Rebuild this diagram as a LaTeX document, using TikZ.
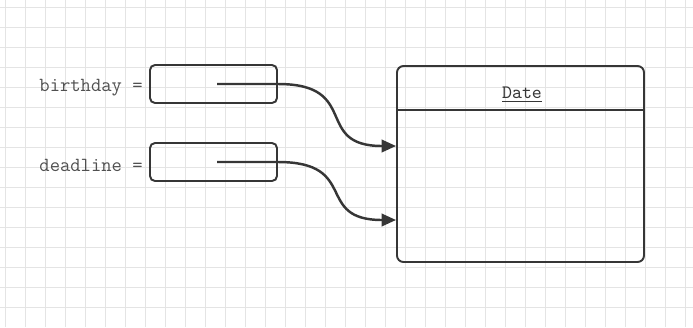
\documentclass[tikz,border=0pt]{standalone}
\usepackage{fontspec}
\usepackage{tikz}
\usetikzlibrary{positioning,arrows.meta,calc}
\definecolor{ink}{HTML}{363636}
\definecolor{txt}{HTML}{505050}
\definecolor{paper}{HTML}{E4E4E4}
\tikzset{
  varbox/.style={draw=ink, line width=1.1pt, rounded corners=0.1cm, minimum width=2.54cm, minimum height=0.76cm, inner sep=0pt},
  objbox/.style={draw=ink, line width=1.1pt, rounded corners=0.13cm, minimum width=4.94cm, minimum height=3.92cm, inner sep=0pt},
  vlabel/.style={text=txt, font=\ttfamily\fontsize{11.4}{13}\selectfont, inner sep=0pt, anchor=east},
  ptr/.style={draw=ink, line width=1.4pt, -{Triangle[length=2.9mm,width=2.5mm]}},
  gridln/.style={draw=paper, line width=0.3pt},
}
\begin{document}
\begin{tikzpicture}
\useasboundingbox (0,0) rectangle (13.86,-6.54);
% graph paper
\foreach \x in {0.1,0.5,...,13.8} \draw[gridln] (\x,0) -- (\x,-6.54);
\foreach \y in {-0.14,-0.54,...,-6.5} \draw[gridln] (0,\y) -- (13.86,\y);

% variables
\node[varbox] (bday) at (4.27,-1.68) {};
\node[varbox] (dline) at (4.27,-3.24) {};
\node[vlabel] (bdaylbl) at (2.86,-1.75) {birthday =};
\node[vlabel] (dlinelbl) at (2.86,-3.31) {deadline =};
\coordinate (bptr) at (4.34,-1.68);
\coordinate (dptr) at (4.34,-3.24);

% object
\node[objbox] (date) at (10.41,-3.28) {};
\node[text=ink, font=\ttfamily\fontsize{10.8}{12}\selectfont] (dtitle) at (10.44,-1.90) {\underline{Date}};
\draw[ink, line width=1.1pt] (date.west |- 0,-2.20) -- (date.east |- 0,-2.20);
\coordinate (din1) at (date.west |- 0,-2.92);
\coordinate (din2) at (date.west |- 0,-4.40);

% references
\draw[ptr] (bptr) -- (bday.east) to[out=0,in=180,looseness=1.6] (din1);
\draw[ptr] (dptr) -- (dline.east) to[out=0,in=180,looseness=1.6] (din2);
\end{tikzpicture}
\end{document}
